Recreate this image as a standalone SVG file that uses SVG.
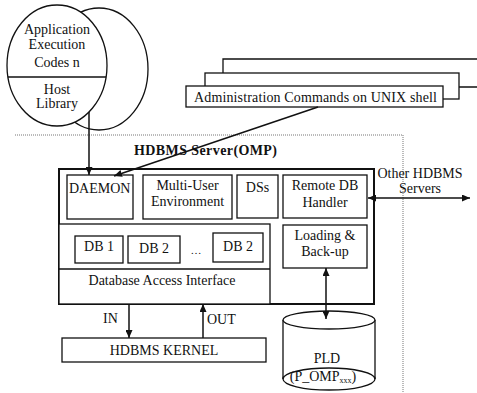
<svg xmlns="http://www.w3.org/2000/svg" width="477" height="393" viewBox="0 0 477 393" font-family="'Liberation Serif', 'Times New Roman', serif">
<defs>
<style>
text{font-family:'Liberation Serif','Times New Roman',serif;font-size:14px;fill:#111}
.c{text-anchor:middle}
.box{fill:#fff;stroke:#111;stroke-width:1.3}
.thick{fill:#fff;stroke:#111;stroke-width:2}
.ln{fill:none;stroke:#111;stroke-width:1.5}
.dot{fill:none;stroke:#777;stroke-width:1;stroke-dasharray:1 1}
.title{font-weight:bold}
</style>
<marker id="ah" viewBox="0 0 8 7" refX="8" refY="3.5" markerWidth="8" markerHeight="7" markerUnits="userSpaceOnUse" orient="auto-start-reverse">
<path d="M0,0 L8,3.5 L0,7 z" fill="#111"/>
</marker>
</defs>
<rect width="477" height="393" fill="#fff"/>

<g id="boundary">
<path class="dot" d="M15,135 H403 V393"/>
</g>

<g id="app-circles">
<ellipse class="box" cx="99" cy="69" rx="49" ry="61"/>
<ellipse class="box" cx="57" cy="65.5" rx="50" ry="60.5"/>
<line class="ln" x1="8" y1="77" x2="106" y2="77" stroke-width="1.2"/>
<text class="c" x="57" y="34">Application</text>
<text class="c" x="57" y="49">Execution</text>
<text class="c" x="57" y="67">Codes n</text>
<text class="c" x="57" y="94">Host</text>
<text class="c" x="57" y="108">Library</text>
</g>

<g id="admin-commands">
<path class="box" d="M477,59 H223 V87 H477"/>
<rect class="box" x="205" y="73" width="254" height="26"/>
<rect class="box" x="186" y="86" width="257" height="21"/>
<text x="194" y="102" textLength="243" lengthAdjust="spacing">Administration Commands on UNIX shell</text>
</g>

<g id="server">
<rect class="thick" x="59" y="169" width="315" height="135"/>
<text class="title" x="134" y="155" textLength="143" lengthAdjust="spacing">HDBMS Server(OMP)</text>
</g>

<g id="daemon">
<rect class="box" x="67" y="175" width="66" height="44"/>
<text x="69" y="193">DAEMON</text>
</g>

<g id="multi-user">
<rect class="box" x="143" y="175" width="89" height="44"/>
<text class="c" x="187.5" y="190">Multi-User</text>
<text class="c" x="187.5" y="206">Environment</text>
</g>

<g id="dss">
<rect class="box" x="237" y="175" width="41" height="43"/>
<text class="c" x="257.5" y="192">DSs</text>
</g>

<g id="remote-db">
<rect class="box" x="283" y="175" width="84" height="43"/>
<text class="c" x="325" y="190">Remote DB</text>
<text class="c" x="325" y="207">Handler</text>
</g>

<g id="loading">
<rect class="box" x="283" y="225" width="84" height="43"/>
<text class="c" x="325" y="240">Loading &amp;</text>
<text class="c" x="325" y="256">Back-up</text>
</g>

<g id="db-panel">
<rect class="box" x="59" y="224" width="211" height="80" stroke-width="1.5"/>
<line class="ln" x1="59" y1="269" x2="270" y2="269" stroke-width="1.3"/>
<text class="c" x="162" y="285">Database Access Interface</text>
</g>

<g id="db1">
<rect class="box" x="75" y="236" width="48" height="27"/>
<text class="c" x="99" y="251">DB 1</text>
</g>
<g id="db2">
<rect class="box" x="128" y="236" width="52" height="27"/>
<text class="c" x="154" y="253">DB 2</text>
</g>
<g id="ellipsis">
<text class="c" x="196" y="254" style="font-size:11px">…</text>
</g>
<g id="db2b">
<rect class="box" x="213" y="233" width="50" height="29"/>
<text class="c" x="238" y="251">DB 2</text>
</g>

<g id="kernel">
<rect class="box" x="62" y="338" width="204" height="24"/>
<text class="c" x="164" y="355">HDBMS KERNEL</text>
</g>

<g id="pld">
<path class="box" d="M283,320 V379 A46,11 0 0 0 375,379 V320"/>
<path class="ln" d="M283,379 A46,11 0 0 1 375,379" stroke-width="1.2"/>
<ellipse class="box" cx="329" cy="320" rx="46" ry="9"/>
<text class="c" x="327" y="363">PLD</text>
<text class="c" x="323" y="381">(P_OMP<tspan style="font-size:8px" dy="2">xxx</tspan><tspan dy="-2">)</tspan></text>
</g>

<g id="other-servers">
<text class="c" x="420" y="178">Other HDBMS</text>
<text class="c" x="420" y="193">Servers</text>
</g>

<g id="connectors">
<line class="ln" x1="89" y1="112" x2="89" y2="175" marker-end="url(#ah)"/>
<line class="ln" x1="318" y1="107" x2="114" y2="176" marker-end="url(#ah)"/>
<line class="ln" x1="368" y1="198" x2="470" y2="198" marker-start="url(#ah)" marker-end="url(#ah)"/>
<line class="ln" x1="326" y1="268" x2="326" y2="319" marker-start="url(#ah)" marker-end="url(#ah)"/>
<line class="ln" x1="129" y1="304" x2="129" y2="338" marker-end="url(#ah)"/>
<line class="ln" x1="203" y1="338" x2="203" y2="304" marker-end="url(#ah)"/>
<text x="103" y="323">IN</text>
<text x="207" y="324">OUT</text>
</g>
</svg>
